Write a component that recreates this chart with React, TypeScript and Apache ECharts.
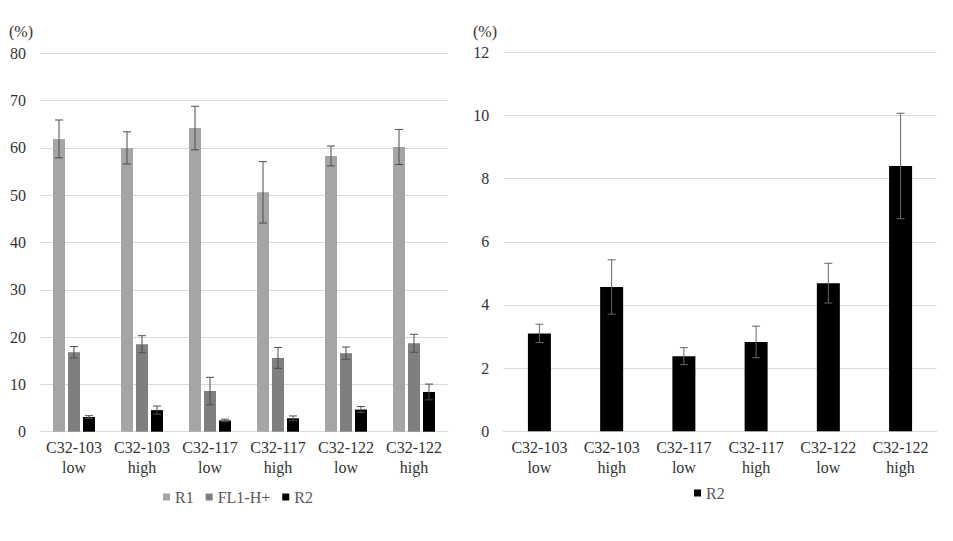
import React, { useEffect, useRef } from "react";
import * as echarts from "echarts";

const categories = ["C32-103\nlow", "C32-103\nhigh", "C32-117\nlow", "C32-117\nhigh", "C32-122\nlow", "C32-122\nhigh"];
const r1Values = [61.9, 60.0, 64.2, 50.6, 58.3, 60.2];
const r1Err = [4.0, 3.4, 4.6, 6.5, 2.1, 3.7];
const flValues = [16.8, 18.5, 8.6, 15.6, 16.6, 18.7];
const flErr = [1.2, 1.8, 2.9, 2.2, 1.3, 1.9];
const r2Values = [3.1, 4.57, 2.38, 2.83, 4.69, 8.4];
const r2Err = [0.29, 0.86, 0.27, 0.5, 0.63, 1.67];
const leftTicks = { min: 0, max: 80, interval: 10 };
const rightTicks = { min: 0, max: 12, interval: 2 };

const FONT = "Liberation Serif, Times New Roman, serif";
const ERR_COLOR = "#4d4d4d";

function errData(vals: number[], errs: number[]) {
  return vals.map((v, i) => [i, v - errs[i], v + errs[i]]);
}

function errSeries(name: string, vals: number[], errs: number[], axisIdx: number, offset: number, color: string) {
  return {
    type: "custom",
    name: name + "-err",
    xAxisIndex: axisIdx,
    yAxisIndex: axisIdx,
    z: 10,
    silent: true,
    encode: { x: 0, y: [1, 2] },
    data: errData(vals, errs),
    renderItem: (params: any, api: any) => {
      const x = api.value(0);
      const pLo = api.coord([x, api.value(1)]);
      const pHi = api.coord([x, api.value(2)]);
      const cx = pLo[0] + offset;
      const style = { stroke: color, lineWidth: 1 };
      return {
        type: "group",
        children: [
          { type: "line", shape: { x1: cx, y1: pHi[1], x2: cx, y2: pLo[1] }, style },
          { type: "line", shape: { x1: cx - 4, y1: pHi[1], x2: cx + 4, y2: pHi[1] }, style },
          { type: "line", shape: { x1: cx - 4, y1: pLo[1], x2: cx + 4, y2: pLo[1] }, style },
        ],
      };
    },
  };
}

export default function App() {
  const ref = useRef<HTMLDivElement>(null);
  useEffect(() => {
    if (!ref.current) return;
    const chart = echarts.init(ref.current, undefined, { renderer: "svg" });
    const xAxisCommon = {
      type: "category",
      data: categories,
      axisLine: { lineStyle: { color: "#d9d9d9" } },
      axisTick: { show: false },
      axisLabel: { color: "#333", fontFamily: FONT, fontSize: 16, lineHeight: 20, margin: 6, interval: 0 },
    };
    const yAxisCommon = {
      type: "value",
      axisLine: { show: false },
      axisTick: { show: false },
      splitLine: { lineStyle: { color: "#d9d9d9" } },
      axisLabel: { color: "#333", fontFamily: FONT, fontSize: 16, margin: 14 },
    };
    const bw = 12;
    const step = 15;
    chart.setOption({
      animation: false,
      backgroundColor: "#fff",
      textStyle: { fontFamily: FONT },
      grid: [
        { left: 40, top: 53.3, width: 408, height: 378.4 },
        { left: 503.3, top: 52.3, width: 433.4, height: 379 },
      ],
      xAxis: [
        { ...xAxisCommon, gridIndex: 0 },
        { ...xAxisCommon, gridIndex: 1 },
      ],
      yAxis: [
        { ...yAxisCommon, gridIndex: 0, ...leftTicks },
        { ...yAxisCommon, gridIndex: 1, ...rightTicks },
      ],
      legend: [
        {
          data: ["R1", "FL1-H+", "R2"],
          left: 163,
          top: 489,
          padding: 0,
          itemWidth: 7,
          itemHeight: 7,
          itemGap: 12,
          icon: "rect",
          textStyle: { color: "#595959", fontFamily: FONT, fontSize: 16 },
        },
        {
          data: ["R2"],
          left: 694,
          top: 485,
          padding: 0,
          itemWidth: 7,
          itemHeight: 7,
          icon: "rect",
          textStyle: { color: "#595959", fontFamily: FONT, fontSize: 16 },
        },
      ],
      graphic: [
        { type: "text", left: 9, top: 23, style: { text: "(%)", fontFamily: FONT, fontSize: 16, fill: "#333" } },
        { type: "text", left: 473, top: 23, style: { text: "(%)", fontFamily: FONT, fontSize: 16, fill: "#333" } },
      ],
      series: [
        { type: "bar", name: "R1", data: r1Values, xAxisIndex: 0, yAxisIndex: 0, barWidth: bw, barGap: "25%", itemStyle: { color: "#a5a5a5" } },
        { type: "bar", name: "FL1-H+", data: flValues, xAxisIndex: 0, yAxisIndex: 0, barWidth: bw, barGap: "25%", itemStyle: { color: "#7f7f7f" } },
        { type: "bar", name: "R2", data: r2Values, xAxisIndex: 0, yAxisIndex: 0, barWidth: bw, barGap: "25%", itemStyle: { color: "#000000" } },
        errSeries("R1", r1Values, r1Err, 0, -step, ERR_COLOR),
        errSeries("FL1-H+", flValues, flErr, 0, 0, ERR_COLOR),
        errSeries("R2", r2Values, r2Err, 0, step, ERR_COLOR),
        { type: "bar", name: "R2", data: r2Values, xAxisIndex: 1, yAxisIndex: 1, barWidth: 23, itemStyle: { color: "#000000" } },
        errSeries("R2b", r2Values, r2Err, 1, 0, "#666666"),
      ],
    });
    return () => chart.dispose();
  }, []);
  return <div ref={ref} style={{ position: "fixed", left: 0, top: 0, width: 953, height: 541 }} />;
}
